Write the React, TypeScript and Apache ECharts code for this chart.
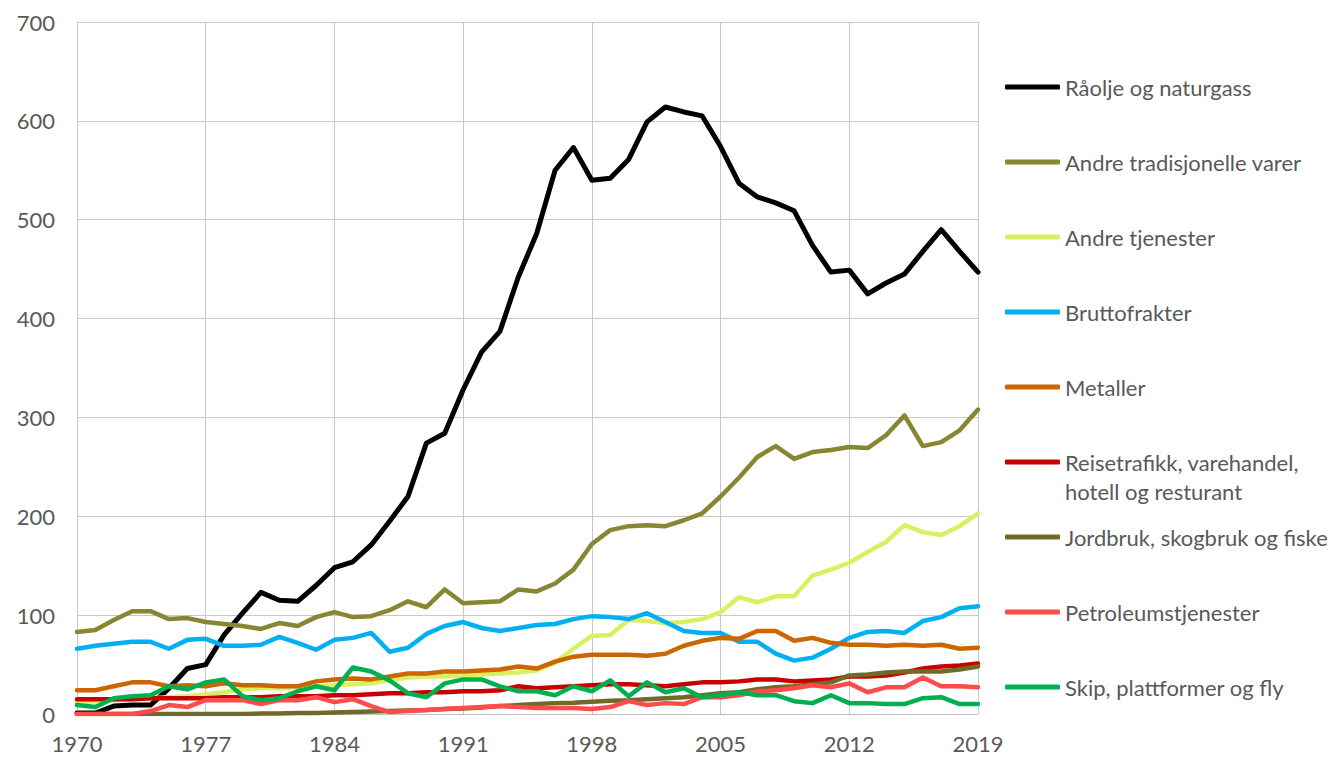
import React, { useEffect, useRef } from "react";
import * as echarts from "echarts";

const years = [
  "1970","1971","1972","1973","1974","1975","1976","1977","1978","1979",
  "1980","1981","1982","1983","1984","1985","1986","1987","1988","1989",
  "1990","1991","1992","1993","1994","1995","1996","1997","1998","1999",
  "2000","2001","2002","2003","2004","2005","2006","2007","2008","2009",
  "2010","2011","2012","2013","2014","2015","2016","2017","2018","2019",
];

const raolje = [
  1, 1, 8, 9, 9, 26, 46, 50, 80, 102,
  123, 115, 114, 130, 148, 154, 171, 195, 220, 274,
  284, 328, 366, 387, 442, 486, 550, 573, 540, 542,
  561, 599, 614, 609, 605, 574, 537, 523, 517, 509,
  474, 447, 449, 425, 436, 445, 468, 490, 468, 447,
];
const andreTrad = [
  83, 85, 95, 104, 104, 96, 97, 93, 91, 89,
  86, 92, 89, 98, 103, 98, 99, 105, 114, 108,
  126, 112, 113, 114, 126, 124, 132, 146, 172, 186,
  190, 191, 190, 196, 203, 220, 239, 260, 271, 258,
  265, 267, 270, 269, 282, 302, 271, 275, 287, 308,
];
const andreTj = [
  12, 13, 14, 15, 16, 17, 18, 20, 22, 25,
  26, 26, 27, 28, 29, 30, 31, 34, 37, 38,
  38, 39, 40, 41, 42, 44, 52, 66, 79, 80,
  95, 94, 92, 93, 96, 103, 118, 113, 119, 119,
  140, 146, 153, 164, 174, 191, 184, 181, 190, 203,
];
const brutto = [
  66, 69, 71, 73, 73, 66, 75, 76, 69, 69,
  70, 78, 72, 65, 75, 77, 82, 63, 67, 81,
  89, 93, 87, 84, 87, 90, 91, 96, 99, 98,
  96, 102, 93, 84, 82, 82, 73, 73, 61, 54,
  57, 66, 77, 83, 84, 82, 94, 98, 107, 109,
];
const metaller = [
  24, 24, 28, 32, 32, 28, 29, 28, 31, 29,
  29, 28, 28, 33, 35, 36, 35, 38, 41, 41,
  43, 43, 44, 45, 48, 46, 53, 58, 60, 60,
  60, 59, 61, 69, 74, 77, 76, 84, 84, 74,
  77, 72, 70, 70, 69, 70, 69, 70, 66, 67,
];
const reise = [
  15, 15, 15, 15, 16, 16, 16, 16, 17, 17,
  17, 18, 18, 18, 19, 19, 20, 21, 21, 22,
  22, 23, 23, 24, 28, 26, 27, 28, 29, 30,
  30, 29, 28, 30, 32, 32, 33, 35, 35, 33,
  34, 35, 38, 38, 39, 42, 46, 48, 49, 51,
];
const jordbruk = [
  0, 0, 0, 0, 0, 0, 0, 0, 0, 0,
  0.5, 0.5, 1, 1, 1.5, 2, 2.5, 3, 3.5, 4,
  5, 5.5, 6.5, 8, 9, 10, 11, 11.5, 12.5, 13.5,
  14, 15, 16, 17, 19, 21, 22, 25, 27, 28,
  30, 32, 39, 40, 42, 43, 43, 43, 45, 48,
];
const petroleum = [
  0, 0, 0, 0, 3, 9, 7, 14, 14, 14,
  10, 14, 14, 17, 12, 15, 8, 2, 3, 4,
  5, 6, 7, 8, 7, 6, 6, 6, 5, 7,
  13, 9, 11, 10, 17, 17, 19, 23, 24, 26,
  29, 27, 31, 22, 27, 27, 37, 28, 28, 27,
];
const skip = [
  9, 7, 16, 18, 19, 28, 25, 32, 35, 18,
  14, 16, 23, 28, 24, 47, 43, 34, 21, 17,
  31, 35, 35, 28, 23, 23, 19, 28, 23, 34,
  18, 32, 22, 26, 17, 19, 22, 19, 19, 13,
  11, 19, 11, 11, 10, 10, 16, 17, 10, 10,
];

const seriesNames = [
  "Råolje og naturgass",
  "Andre tradisjonelle varer",
  "Andre tjenester",
  "Bruttofrakter",
  "Metaller",
  "Reisetrafikk, varehandel, hotell og resturant",
  "Jordbruk, skogbruk og fiske",
  "Petroleumstjenester",
  "Skip, plattformer og fly",
];
// legend label lines (first line next to the swatch, optional second line below)
const legendLines = [
  ["Råolje og naturgass"],
  ["Andre tradisjonelle varer"],
  ["Andre tjenester"],
  ["Bruttofrakter"],
  ["Metaller"],
  ["Reisetrafikk, varehandel,", "hotell og resturant"],
  ["Jordbruk, skogbruk og fiske"],
  ["Petroleumstjenester"],
  ["Skip, plattformer og fly"],
];
const seriesValues = [raolje, andreTrad, andreTj, brutto, metaller, reise, jordbruk, petroleum, skip];
const seriesColors = [
  "#000000", "#878632", "#DAF062", "#00B0F0", "#CC6600",
  "#C80000", "#6F6A28", "#FF4B4B", "#00B050",
];

const FONT = "Lato, 'Noto Sans', sans-serif";
const TEXT = "#595959";
const FS = 22;

export default function App() {
  const ref = useRef<HTMLDivElement>(null);
  useEffect(() => {
    document.body.style.margin = "0";
    document.body.style.overflow = "hidden";
    if (!ref.current) return;
    const chart = echarts.init(ref.current, null, { renderer: "svg" });

    const legends = seriesNames.map((name, i) => {
      const cy = 87 + i * 75;
      return {
        show: true,
        data: [name],
        left: 1005,
        top: cy - 13,
        orient: "vertical",
        padding: 0,
        itemWidth: 55,
        itemHeight: 5,
        icon: "roundRect",
        selectedMode: false,
        formatter: () => legendLines[i][0],
        textStyle: { fontSize: FS, color: TEXT, fontFamily: FONT, lineHeight: 26 },
      };
    });

    const extraTexts: any[] = [];
    legendLines.forEach((lines, i) => {
      if (lines.length > 1) {
        extraTexts.push({
          type: "text",
          left: 1065,
          top: 87 + i * 75 + 29 - 13,
          style: {
            text: lines[1],
            fill: TEXT,
            font: `${FS}px ${FONT}`,
            lineHeight: 26,
          },
        });
      }
    });

    chart.setOption({
      animation: false,
      textStyle: { fontFamily: FONT },
      grid: { left: 77, right: 353, top: 22, bottom: 44, containLabel: false },
      legend: legends,
      graphic: extraTexts,
      xAxis: {
        type: "category",
        data: years,
        boundaryGap: false,
        axisLine: { show: true, lineStyle: { color: "#BFBFBF", width: 1 } },
        axisTick: { show: false },
        axisLabel: { interval: 6, fontSize: FS, color: TEXT, fontFamily: FONT, margin: 18 },
        splitLine: { show: true, interval: 6, lineStyle: { color: "#C8C8C8", width: 1 } },
      },
      yAxis: {
        type: "value",
        min: 0,
        max: 700,
        interval: 100,
        axisLine: { show: true, lineStyle: { color: "#C8C8C8", width: 1 } },
        axisTick: { show: false },
        axisLabel: { fontSize: FS, color: TEXT, fontFamily: FONT, margin: 22 },
        splitLine: { show: true, lineStyle: { color: "#C8C8C8", width: 1 } },
      },
      series: seriesNames.map((name, i) => ({
        name,
        type: "line",
        data: seriesValues[i],
        symbol: "none",
        color: seriesColors[i],
        lineStyle: { width: i === 0 ? 5 : 4.5, color: seriesColors[i], cap: "round", join: "round" },
      })),
    });
    return () => chart.dispose();
  }, []);
  return <div ref={ref} style={{ width: 1331, height: 758 }} />;
}
